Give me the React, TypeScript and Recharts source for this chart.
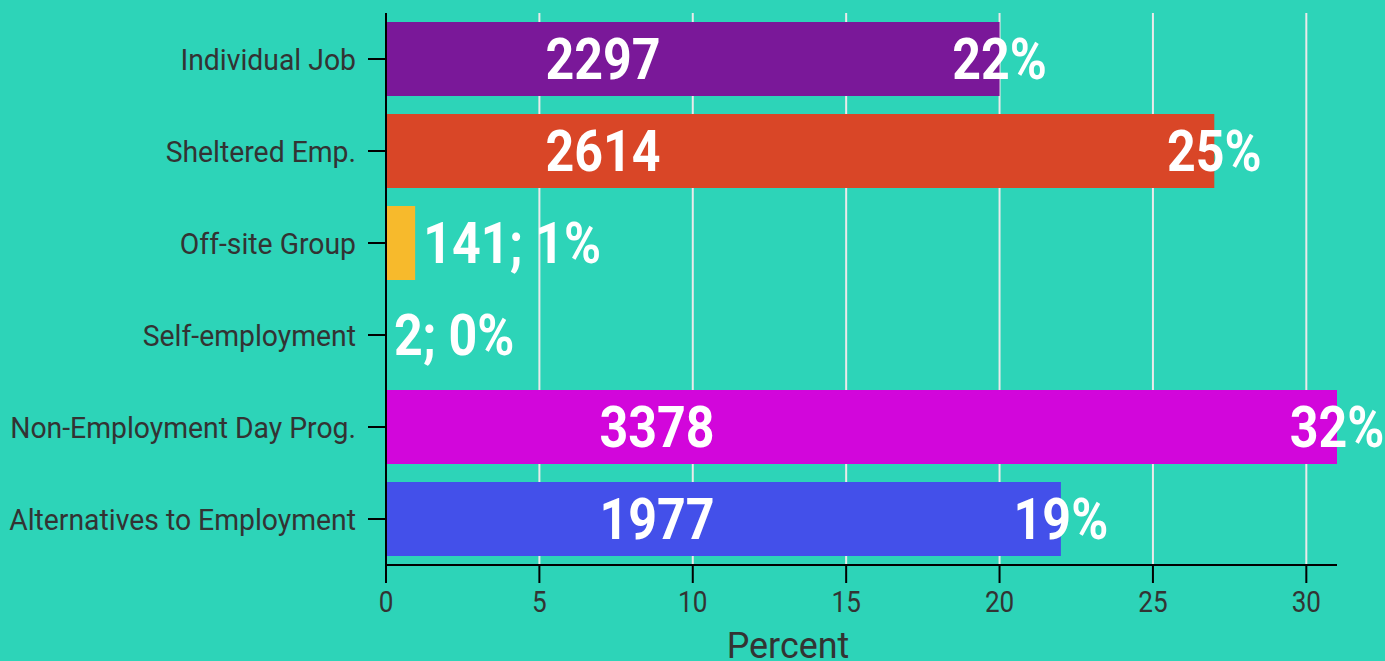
import { BarChart, Bar, XAxis, YAxis, CartesianGrid, Label } from 'recharts';

const categories = [
  'Individual Job',
  'Sheltered Emp.',
  'Off-site Group',
  'Self-employment',
  'Non-Employment Day Prog.',
  'Alternatives to Employment',
];
const barValues = [20, 27, 0.95, 0, 31, 22];
const counts = [2297, 2614, 141, 2, 3378, 1977];
const percents = [22, 25, 1, 0, 32, 19];
const barColors = ['#7A1899', '#D94627', '#F7BA2C', '#2DD4B8', '#D206DB', '#4350EA'];
const xTicks = [0, 5, 10, 15, 20, 25, 30];
const xMax = 31;

const data = categories.map((name, i) => ({
  name,
  value: barValues[i],
  count: counts[i],
  pct: percents[i],
}));

const BG = '#2DD4B8';
const TEXT = '#333333';
const FONT = 'Roboto, sans-serif';

function YTick({ x, y, payload }: any) {
  return (
    <g transform={`translate(${x - 10},${y + 11}) scale(0.945,1)`}>
      <text x={0} y={0} textAnchor="end" fill={TEXT} fontSize={30} fontFamily={FONT}>
        {payload.value}
      </text>
    </g>
  );
}

function XTick({ x, y, payload }: any) {
  return (
    <g transform={`translate(${x},${y + 27}) scale(0.9,1)`}>
      <text x={0} y={0} textAnchor="middle" fill={TEXT} fontSize={29} fontFamily={FONT}>
        {payload.value}
      </text>
    </g>
  );
}

function BoldText({ x, y, anchor, children }: any) {
  return (
    <g transform={`translate(${x},${y}) scale(0.88,1)`}>
      <text x={0} y={0} textAnchor={anchor} fill="#FFFFFF" fontSize={57} fontWeight={700} fontFamily={FONT}>
        {children}
      </text>
    </g>
  );
}

// bar + its labels in one shape so the zero-length bar still gets a label
function LabeledBar(props: any) {
  const { x, y, width, height, payload } = props;
  const index = data.findIndex((d) => d.name === payload.name);
  const d = data[index];
  const w = Math.max(width || 0, 0);
  const base = y + height / 2 + 20;
  const end = x + w;
  return (
    <g>
      {w > 0 && <rect x={x} y={y} width={w} height={height} fill={barColors[index]} />}
      {d.value < 5 ? (
        <BoldText x={end + 8} y={base} anchor="start">
          {`${d.count}; ${d.pct}%`}
        </BoldText>
      ) : (
        <g>
          <BoldText x={x + (index < 2 ? 217 : 271)} y={base} anchor="middle">
            {d.count}
          </BoldText>
          <BoldText x={end} y={base} anchor="middle">
            {`${d.pct}%`}
          </BoldText>
        </g>
      )}
    </g>
  );
}

// grid only at the tick values, not at the domain end
const gridX = ({ offset }: any) => xTicks.map((t) => offset.left + (t / xMax) * offset.width);

export default function App() {
  return (
    <div style={{ position: 'absolute', left: 0, top: 0, width: 1385, height: 661, background: BG }}>
      <BarChart
        width={1385}
        height={661}
        data={data}
        layout="vertical"
        margin={{ top: 13, right: 48, bottom: 0, left: 0 }}
        barCategoryGap={9}
      >
        <CartesianGrid horizontal={false} stroke="#EAEAEA" strokeWidth={2} verticalCoordinatesGenerator={gridX} />
        <XAxis
          type="number"
          domain={[0, xMax]}
          ticks={xTicks}
          height={96}
          tickSize={18}
          axisLine={{ stroke: '#000', strokeWidth: 2 }}
          tickLine={{ stroke: '#000', strokeWidth: 2 }}
          tick={<XTick />}
          interval={0}
        >
          <Label
            content={() => (
              <g transform="translate(788,658) scale(0.97,1)">
                <text x={0} y={0} textAnchor="middle" fill={TEXT} fontSize={37} fontFamily={FONT}>
                  Percent
                </text>
              </g>
            )}
          />
        </XAxis>
        <YAxis
          type="category"
          dataKey="name"
          width={386}
          tickSize={18}
          axisLine={{ stroke: '#000', strokeWidth: 2 }}
          tickLine={{ stroke: '#000', strokeWidth: 2 }}
          tick={<YTick />}
          interval={0}
        />
        <Bar dataKey="value" isAnimationActive={false} shape={<LabeledBar />} />
      </BarChart>
    </div>
  );
}
